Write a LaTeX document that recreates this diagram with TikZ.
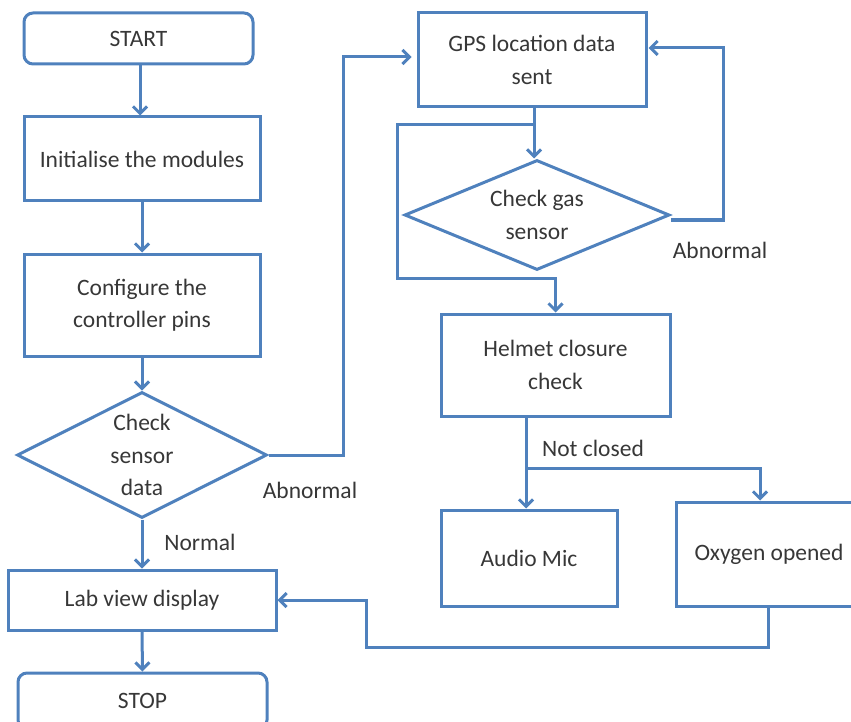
\documentclass[tikz,border=0pt]{standalone}
\usepackage{fontspec}
\setmainfont{Carlito}
\usetikzlibrary{arrows.meta,shapes.geometric}
\definecolor{fcblue}{RGB}{79,129,189}
\definecolor{fctext}{RGB}{55,55,55}
\begin{document}
\begin{tikzpicture}[x=1pt,y=-1pt,
  font=\fontsize{23.5}{32.5}\selectfont,
  every node/.style={text=fctext},
  box/.style={draw=fcblue,line width=3pt,rectangle,inner sep=0pt,align=center},
  rbox/.style={box,rounded corners=9pt},
  dia/.style={draw=fcblue,line width=3pt,diamond,inner sep=0pt},
  txt/.style={align=center,inner sep=0pt},
  lbl/.style={fill=white,inner sep=3pt},
  conn/.style={draw=fcblue,line width=3pt},
  arr/.style={conn,-{Straight Barb[length=7pt,width=14pt]}}]
\useasboundingbox (0,0) rectangle (851,722);
% left column
\node[rbox,minimum width=229pt,minimum height=51pt] (start) at (138.5,38.5) {START};
\node[box,minimum width=236pt,minimum height=84pt] (init) at (142,159) {Initialise the modules};
\node[box,minimum width=236pt,minimum height=102pt] (conf) at (142,305) {Configure the\\controller pins};
\node[dia,minimum width=250pt,minimum height=126pt] (csd) at (142,455) {};
\node[txt] (csdt) at (142,455) {Check\\sensor\\data};
\node[box,minimum width=268pt,minimum height=60pt] (lab) at (142,600) {Lab view display};
\node[rbox,minimum width=249pt,minimum height=56pt] (stop) at (142.5,701) {STOP};
% right column
\node[box,minimum width=228pt,minimum height=94pt] (gps) at (532,60) {GPS location data\\sent};
\node[dia,minimum width=265pt,minimum height=110pt] (gas) at (537,215) {};
\node[txt] (gast) at (537,215) {Check gas\\sensor};
\node[box,minimum width=229pt,minimum height=102pt] (helm) at (555.5,365) {Helmet closure\\check};
\node[box,minimum width=176pt,minimum height=96pt] (audio) at (529,558) {Audio Mic};
\node[box,minimum width=186pt,minimum height=104pt] (oxy) at (769,554) {Oxygen opened};
% labels
\node[lbl] (ab1) at (310,490) {Abnormal};
\node[lbl] (nor) at (200,542) {Normal};
\node[lbl] (ab2) at (720,250) {Abnormal};
\node[lbl] (ncl) at (593,448) {Not closed};
% helper coordinates
\coordinate (c1) at (343,57);
\coordinate (g1) at (534,125);
\coordinate (g2) at (397,278);
\coordinate (r1) at (723,48);
\coordinate (h1) at (526,416);
\coordinate (h2) at (526,468);
\coordinate (o1) at (760,468);
\coordinate (o2) at (366,647);
% connectors
\draw[arr] (start.south -| 140,0) -- (140,0 |- init.north);
\draw[arr] (init.south) -- (conf.north);
\draw[arr] (conf.south) -- (csd.north);
\draw[arr] (csd.south) -- (lab.north);
\draw[arr] (lab.south) -- (stop.north);
\draw[arr,shorten >=5pt] (csd.east) -| (c1) -- (c1 -| gps.west);
\draw[arr] (gps.south -| g1) -- (g1 |- gas.north);
\draw[arr] (g1) -| (g2) -| (helm.north);
\draw[arr,shorten >=1pt] ([yshift=-5pt]gas.east) -| (r1) -- (r1 -| gps.east);
\draw[conn] (h1) -- (h2);
\draw[arr] (h2) -- (h2 |- audio.north);
\draw[arr] (h2) -- (o1) -- (o1 |- oxy.north);
\draw[arr] (oxy.south -| 768,0) |- (o2) |- (lab.east);
\end{tikzpicture}
\end{document}
